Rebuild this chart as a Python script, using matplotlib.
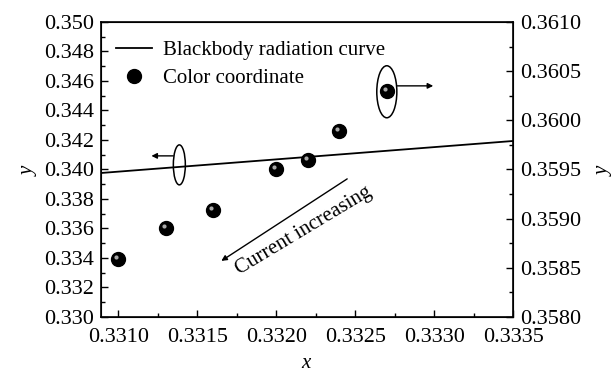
import numpy as np
from matplotlib import pyplot as plt
from matplotlib.patches import Ellipse
from matplotlib.transforms import ScaledTranslation

plt.rcParams['font.family'] = ['Liberation Serif', 'DejaVu Serif']
plt.rcParams['mathtext.fontset'] = 'custom'
plt.rcParams['mathtext.it'] = 'Liberation Serif:italic'

# blackbody radiation curve (left axis)
bb_x = [0.33089, 0.3335]
bb_y = [0.33976, 0.34193]

# colour coordinates (right axis)
cc_x = [0.3310, 0.3313, 0.3316, 0.3320, 0.3322, 0.3324, 0.3327]
cc_y = [0.35859, 0.35890, 0.35909, 0.35950, 0.35960, 0.35989, 0.36030]

x_ticks = [0.3310, 0.3315, 0.3320, 0.3325, 0.3330, 0.3335]
yl_ticks = [0.330, 0.332, 0.334, 0.336, 0.338, 0.340, 0.342, 0.344, 0.346, 0.348, 0.350]
yr_ticks = [0.3580, 0.3585, 0.3590, 0.3595, 0.3600, 0.3605, 0.3610]

fs = 15
tfs = 16

fig = plt.figure(figsize=(6.16, 3.72), dpi=100)
ax = fig.add_axes([0.164, 0.148, 0.669, 0.793])
ax2 = ax.twinx()

ax.set_xlim(0.33089, 0.3335)
ax.set_ylim(0.330, 0.350)
ax2.set_ylim(0.358, 0.361)

ax.set_xticks(x_ticks)
ax.set_xticklabels(['%.4f' % v for v in x_ticks])
ax.set_xticks([v + 0.00025 for v in x_ticks[:-1]], minor=True)
ax.set_yticks(yl_ticks)
ax.set_yticklabels(['%.3f' % v for v in yl_ticks])
ax.set_yticks([v + 0.001 for v in yl_ticks[:-1]], minor=True)
ax2.set_yticks(yr_ticks)
ax2.set_yticklabels(['%.4f' % v for v in yr_ticks])
ax2.set_yticks([v + 0.00025 for v in yr_ticks[:-1]], minor=True)

for a in (ax, ax2):
	a.tick_params(which='major', direction='in', length=5, width=1, labelsize=tfs, pad=5)
	a.tick_params(which='minor', direction='in', length=3, width=1)
ax.tick_params(axis='x', pad=8)
ax.tick_params(axis='y', which='both', right=False)
ax.tick_params(axis='x', which='both', top=False)
for s in ax.spines.values():
	s.set_linewidth(1.2)

ax.set_xlabel('$x$', fontsize=fs, labelpad=5)
ax.set_ylabel('$y$', fontsize=fs, labelpad=4)
ax2.set_ylabel('$y$', fontsize=fs, rotation=90, labelpad=10)

line, = ax.plot(bb_x, bb_y, color='k', lw=1.3, label='Blackbody radiation curve')

# dark spheres with a small highlight
ax2.plot(cc_x, cc_y, 'o', color='k', ms=10, zorder=5)
hl = ax2.transData + ScaledTranslation(-1.5/72, 1.5/72, fig.dpi_scale_trans)
ax2.plot(cc_x, cc_y, 'o', color='#bdbdbd', ms=3, mew=0, alpha=0.9, transform=hl, zorder=6)

sph, = ax.plot([], [], 'o', color='k', ms=10, label='Color coordinate')
ax.legend(handles=[line, sph], loc='upper left', bbox_to_anchor=(0.036, 0.938),
	frameon=False, fontsize=fs, handlelength=1.75, handletextpad=0.5,
	labelspacing=0.42, borderaxespad=0, borderpad=0)

# axis pointers
ax.add_patch(Ellipse((0.331386, 0.34031), 0.000076, 0.00271, fill=False, lw=1.1, color='k'))
ax.annotate('', xy=(0.331209, 0.34092), xytext=(0.331348, 0.34092),
	arrowprops=dict(arrowstyle='-|>', color='k', lw=1, mutation_scale=8, shrinkA=0, shrinkB=0))
ax2.add_patch(Ellipse((0.3327, 0.36029), 0.000127, 0.000529, fill=False, lw=1.1, color='k'))
ax2.annotate('', xy=(0.332994, 0.36035), xytext=(0.332766, 0.36035),
	arrowprops=dict(arrowstyle='-|>', color='k', lw=1, mutation_scale=8, shrinkA=0, shrinkB=0))

# current direction
ax.annotate('', xy=(0.331652, 0.33380), xytext=(0.332449, 0.33936),
	arrowprops=dict(arrowstyle='-|>', color='k', lw=1, mutation_scale=8, shrinkA=0, shrinkB=0))
ax.text(0.332171, 0.33583, 'Current increasing', fontsize=fs, rotation=31,
	ha='center', va='center', rotation_mode='anchor')

fig.savefig('out.png', dpi=100)
